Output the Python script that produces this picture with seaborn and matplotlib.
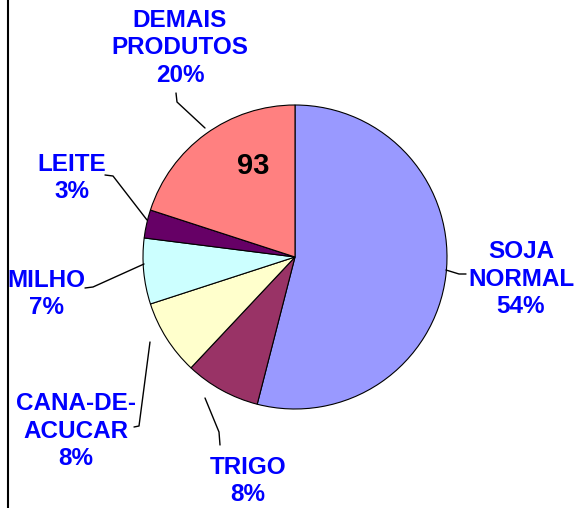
import matplotlib
matplotlib.use("Agg")
import matplotlib.pyplot as plt
import seaborn as sns
from matplotlib.lines import Line2D

produtos = ["SOJA\nNORMAL", "TRIGO", "CANA-DE-\nACUCAR", "MILHO", "LEITE", "DEMAIS\nPRODUTOS"]
percentuais = [54, 8, 8, 7, 3, 20]
cores = ["#9999FF", "#993366", "#FFFFCC", "#CCFFFF", "#660066", "#FF8080"]
valor_destaque = "93"

sns.set_theme(style="white")
plt.rcParams["font.family"] = ["Liberation Sans", "DejaVu Sans"]

fig = plt.figure(figsize=(5.83, 5.08), dpi=100)
ax = fig.add_axes([0, 0, 1, 1])

H = 508
cx, cy, r = 295, H - 257, 152
ax.pie(percentuais, colors=cores, startangle=90, counterclock=False,
       center=(cx, cy), radius=r, frame=True,
       wedgeprops=dict(edgecolor="black", linewidth=0.8))
ax.set_xlim(0, 583)
ax.set_ylim(0, 508)
ax.axis("off")

# posicoes dos rotulos (pixels, centro do bloco) e linhas de chamada
pos_rotulos = [(521, 279), (248, 481), (76, 431), (46, 294), (72, 178), (180, 48)]
chamadas = [
    [(446, 270), (459, 274), (466, 274)],
    [(205, 398), (219, 432), (220, 445)],
    [(150, 342), (139, 426), (134, 427)],
    [(144, 264), (93, 287), (85, 288)],
    [(147, 220), (113, 176), (105, 175)],
    [(205, 128), (177, 102), (176, 93)],
]

for nome, pct, (px, py), pts in zip(produtos, percentuais, pos_rotulos, chamadas):
    ax.text(px, H - py, f"{nome}\n{pct}%", ha="center", va="center",
            color="#0000FF", fontsize=17.5, fontweight="bold", linespacing=1.25)
    xs = [p[0] for p in pts]
    ys = [H - p[1] for p in pts]
    ax.plot(xs, ys, color="black", lw=1)

ax.text(253, H - 166, valor_destaque, ha="center", va="center",
        color="black", fontsize=21, fontweight="bold")

fig.add_artist(Line2D([8 / 583, 8 / 583], [0, 1], color="black", lw=1.5))

fig.savefig("out.png", dpi=100)
